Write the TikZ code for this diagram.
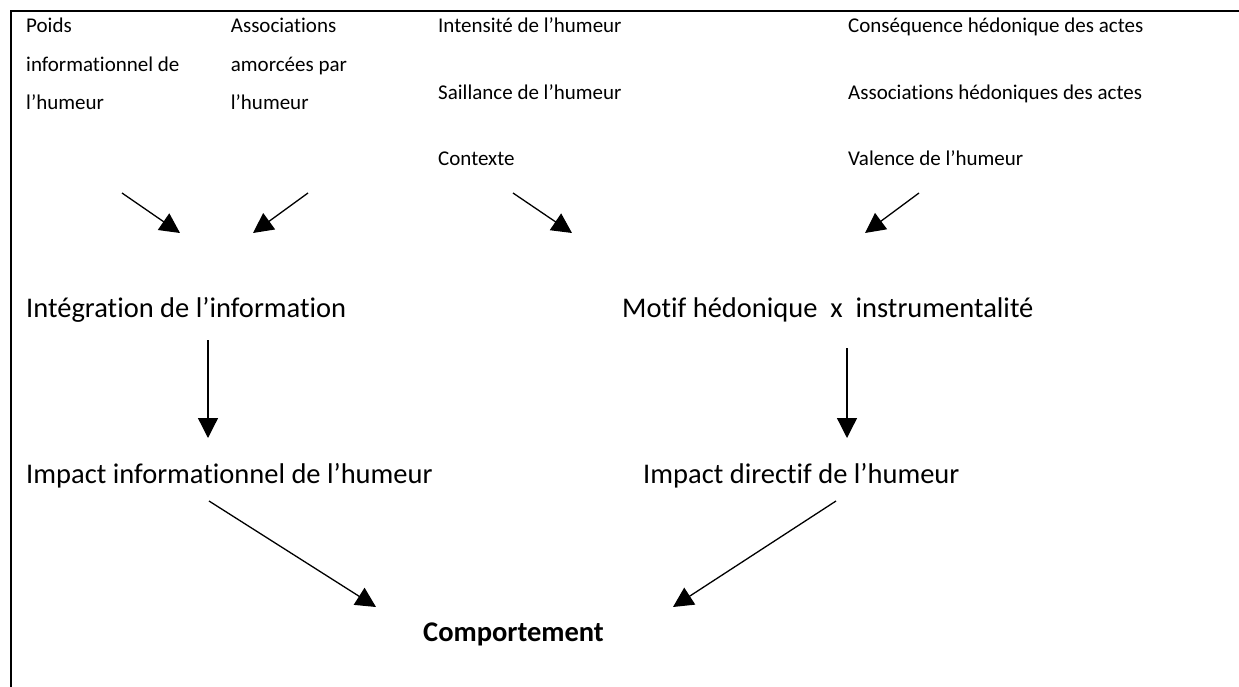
\documentclass[tikz,border=0pt]{standalone}
\usepackage{fontspec}
\setmainfont{Carlito}[Ligatures=NoCommon]
\usetikzlibrary{arrows.meta}
\tikzset{
  petit/.style={anchor=base west,inner sep=0pt,align=left,font=\fontsize{21}{38.5}\selectfont},
  grand/.style={anchor=base west,inner sep=0pt,font=\fontsize{28.5}{34}\selectfont},
  fleche/.style={-{Triangle[length=20pt,width=20pt]},line width=1.3pt}
}
\begin{document}
\begin{tikzpicture}[x=1pt,y=-1pt]
\useasboundingbox (0,0) rectangle (1239,687);
\draw[line width=2pt] (10.7,687) -- (10.7,11.5) -- (1239,11.5);
\node[petit] (poids) at (26,110) {Poids\\informationnel de\\l’humeur};
\node[petit] (amorce) at (230.7,110) {Associations\\amorcées par\\l’humeur};
\node[petit] (intens) at (438,33) {Intensité de l’humeur};
\node[petit] (saill) at (438,99.5) {Saillance de l’humeur};
\node[petit] (ctx) at (438,166) {Contexte};
\node[petit] (conseq) at (848,33) {Conséquence hédonique des actes};
\node[petit] (assoc) at (848,99.5) {Associations hédoniques des actes};
\node[petit] (val) at (848,166) {Valence de l’humeur};
\node[grand] (integ) at (26,317) {Intégration de l’information};
\node[grand] (motif) at (622,317) {Motif hédonique\ \ x\ \ instrumentalité};
\node[grand] (impinf) at (26,483) {Impact informationnel de l’humeur};
\node[grand] (impdir) at (643,483) {Impact directif de l’humeur};
\node[grand,font=\fontsize{28.5}{34}\selectfont\bfseries] (comp) at (423,641) {Comportement};
\coordinate (d1) at (122,193); \coordinate (f1) at (180,233);
\coordinate (d2) at (308,193); \coordinate (f2) at (253,233);
\coordinate (d3) at (513,193); \coordinate (f3) at (572,233);
\coordinate (d4) at (919,193); \coordinate (f4) at (865,233);
\coordinate (d5) at (208,340); \coordinate (f5) at (208,438);
\coordinate (d6) at (847,348); \coordinate (f6) at (847,438);
\coordinate (d7) at (209,501); \coordinate (f7) at (376,607);
\coordinate (d8) at (836,501); \coordinate (f8) at (673,607);
\foreach \i in {1,...,8}
  \draw[fleche] (d\i) -- (f\i);
\end{tikzpicture}
\end{document}
